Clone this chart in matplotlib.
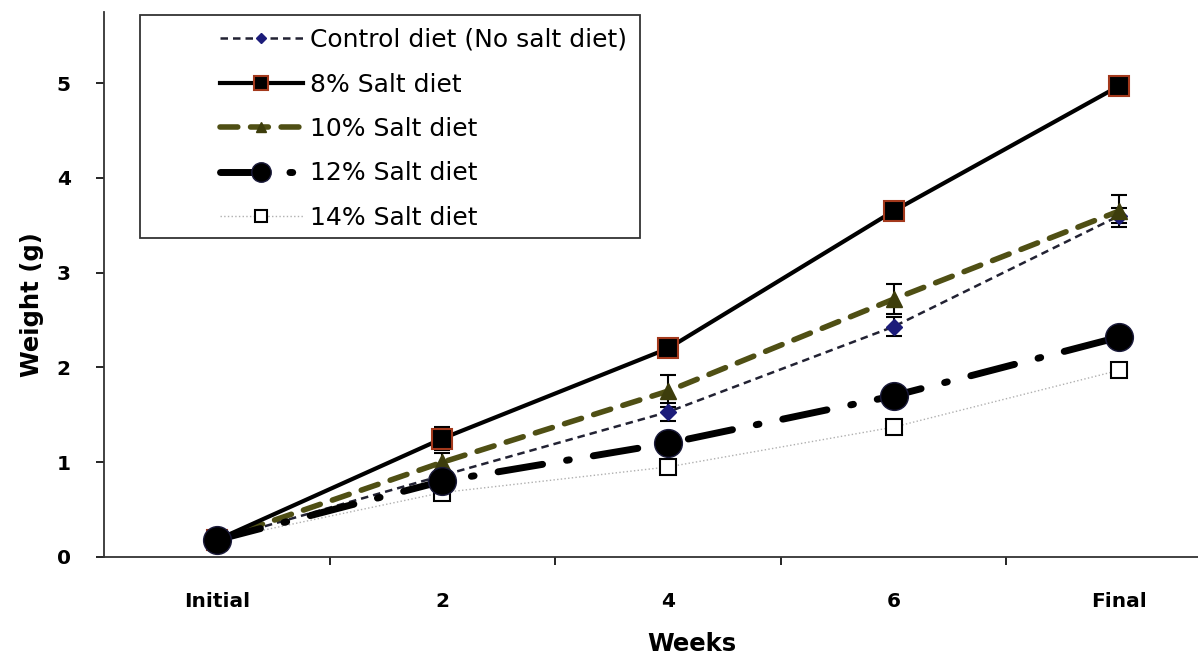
import numpy as np
import matplotlib
matplotlib.use("Agg")
import matplotlib.pyplot as plt
from matplotlib.ticker import FixedLocator
from matplotlib.patches import Rectangle

plt.rcParams['font.family'] = ['DejaVu Sans']

# data
weeks = ['Initial', '2', '4', '6', 'Final']
control = [0.18, 0.86, 1.53, 2.43, 3.60]
control_err = [0.05, 0.06, 0.10, 0.10, 0.08]
salt8 = [0.18, 1.25, 2.20, 3.65, 4.97]
salt8_err = [0.05, 0.12, 0.08, 0.08, 0.06]
salt10 = [0.18, 1.00, 1.75, 2.72, 3.65]
salt10_err = [0.05, 0.10, 0.17, 0.16, 0.17]
salt12 = [0.18, 0.80, 1.20, 1.70, 2.32]
salt12_err = [0.04, 0.05, 0.06, 0.06, 0.05]
salt14 = [0.18, 0.68, 0.95, 1.37, 1.97]
salt14_err = [0.03, 0.03, 0.03, 0.03, 0.03]

W, H = 1198, 654
x = np.arange(len(weeks))

fig = plt.figure(figsize=(W/100, H/100), dpi=100)
ax = fig.add_axes([104/W, 1-557/H, 1-104/W, (557-12)/H])

eb = dict(ecolor='black', elinewidth=1.5, capsize=6, capthick=1.5)

ax.errorbar(x, control, yerr=control_err, color='#222233', lw=1.8,
            linestyle=(0, (3, 2)), marker='D', ms=8, mfc='#1c1c7a', mec='#1c1c7a',
            label='Control diet (No salt diet)', zorder=3, **eb)
ax.errorbar(x, salt8, yerr=salt8_err, color='black', lw=3,
            marker='s', ms=15, mfc='black', mec='#a3391c', mew=1.5,
            label='8% Salt diet', zorder=4, **eb)
l10 = ax.errorbar(x, salt10, yerr=salt10_err, color='#4f4f14', lw=4,
                  linestyle=(0, (3.2, 2.3)), marker='^', ms=11, mfc='#3d3d0c', mec='#3d3d0c',
                  label='10% Salt diet', zorder=3, **eb)
l14 = ax.errorbar(x, salt14, yerr=salt14_err, color='#b0b0b0', lw=1,
                  linestyle=':', marker='s', ms=12, mfc='white', mec='black', mew=1.5,
                  label='14% Salt diet', zorder=3, **eb)
l12 = ax.errorbar(x, salt12, yerr=salt12_err, color='black', lw=5,
                  linestyle=(0, (6.5, 3.5, 0.4, 3.5)), marker='o', ms=20, mfc='black', mec='#1a1a3a',
                  label='12% Salt diet', zorder=5, **eb)
l10[0].set_dash_capstyle('round')
l12[0].set_dash_capstyle('round')

ax.set_xlim(-0.5, (W-102)/226 - 0.5)
ax.set_ylim(0, 5.75)

ax.spines['top'].set_visible(False)
ax.spines['right'].set_visible(False)
for s in ['left', 'bottom']:
    ax.spines[s].set_color('#333333')
    ax.spines[s].set_linewidth(1.3)

ax.set_xticks(x)
ax.set_xticklabels(weeks, fontsize=14.5, fontweight='bold')
ax.xaxis.set_minor_locator(FixedLocator(np.arange(0.5, 4.0, 1.0)))
ax.tick_params(axis='x', which='major', length=0, pad=25)
ax.tick_params(axis='x', which='minor', length=6, direction='out', width=1.2)
ax.set_yticks(range(6))
ax.set_yticklabels([str(i) for i in range(6)], fontsize=14.5, fontweight='bold')
ax.tick_params(axis='y', length=6, width=1.2, pad=18)

fig.text(692/W, 3/H, 'Weeks', fontsize=17.5, fontweight='bold', ha='center', va='baseline')
fig.text(32/W, 1-305/H, 'Weight (g)', fontsize=17.5, fontweight='bold',
         ha='center', va='center', rotation=90)

# legend box drawn separately (wide left margin like the original)
fig.patches.append(Rectangle((140/W, 1-238/H), (640-140)/W, (238-15)/H,
                             transform=fig.transFigure, fill=False,
                             edgecolor='#333333', lw=1.3, zorder=10))

handles, labels = ax.get_legend_handles_labels()
names = ['Control diet (No salt diet)', '8% Salt diet', '10% Salt diet',
         '12% Salt diet', '14% Salt diet']
order = [labels.index(n) for n in names]
hl = [handles[i][0] for i in order]
leg = fig.legend(hl, names, loc='upper left',
                 bbox_to_anchor=(220/W, 1-28/H), fontsize=18, frameon=False,
                 handlelength=3.3, handletextpad=0.3,
                 borderpad=0, labelspacing=0.82, borderaxespad=0, markerscale=0.7)

fig.savefig('out.png', dpi=100)
